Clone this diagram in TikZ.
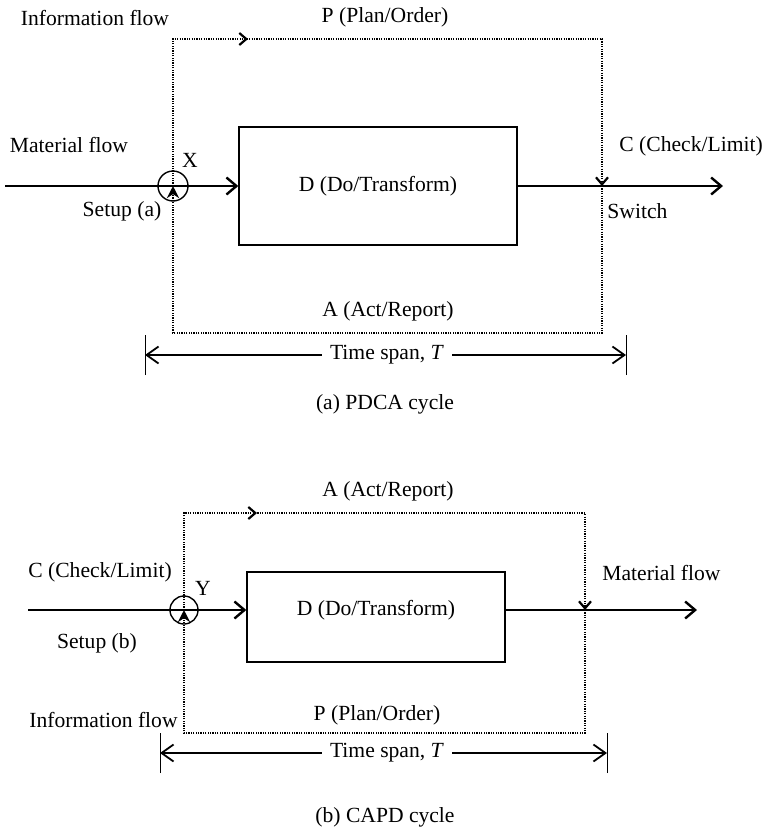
\documentclass[tikz,border=0pt]{standalone}
\usepackage{fontspec}
\setmainfont{Liberation Serif}
\usetikzlibrary{arrows.meta,decorations.markings}
\begin{document}
\begin{tikzpicture}[x=0.5pt,y=-0.5pt,
  txt/.style={font=\fontsize{10.8}{13}\selectfont, inner sep=0pt},
  boxnode/.style={draw, line width=0.7pt, font=\fontsize{10.8}{13}\selectfont, inner sep=0pt},
  junction/.style={circle, draw, line width=0.7pt, inner sep=0pt, minimum size=#1},
  matflow/.style={line width=1.2pt, -{Straight Barb[length=5pt,width=8.5pt]}},
  infoflow/.style={dash pattern=on 0.6pt off 0.6pt, line width=1pt},
  infoend/.style={-{Straight Barb[length=3.5pt,width=6pt,line width=1.1pt]}},
  setupend/.style={-{Stealth[length=6pt,width=6pt]}},
  midarrow/.style={postaction={decorate}, decoration={markings,
      mark=at position #1 with {\arrow{Straight Barb[length=3.5pt,width=6pt,line width=1.1pt]}}}},
  spanline/.style={line width=0.9pt},
  spanend/.style={-{Straight Barb[length=6pt,width=8.5pt]}},
  spanstart/.style={{Straight Barb[length=6pt,width=8.5pt]}-},
  tick/.style={line width=0.5pt},
]
\useasboundingbox (0,0) rectangle (763,827);

% ---------------- (a) PDCA cycle ----------------
\node[boxnode, minimum width=139pt, minimum height=59pt] (D1) at (378,186) {D (Do/Transform)};
\node[junction=15pt] (X) at (173,186) {};
\node[txt] (Xl) at (190,160) {X};

\coordinate (m1in) at (5,186);
\coordinate (m1out) at (723,186);
\coordinate (S1) at (602,186);
\coordinate (tl1) at (173,39);
\coordinate (tr1) at (602,39);
\coordinate (br1) at (602,333);
\coordinate (bl1) at (173,333);

% material flow
\draw[matflow] (m1in) -- (D1.west);
\draw[matflow] (D1.east) -- (m1out);

% information loop
\draw[infoflow, infoend, midarrow=111pt] (X.center) -- (tl1) -- (tr1) -- (S1);
\draw[infoflow, setupend] (S1) -- (br1) -- (bl1) -- (X.center);

\node[txt] (info1) at (95,18) {Information flow};
\node[txt] (P1) at (385,17) {P (Plan/Order)};
\node[txt] (mat1) at (69,145) {Material flow};
\node[txt] (setup1) at (122,211) {Setup (a)};
\node[txt, anchor=west] (C1) at (619,146) {C (Check/Limit)};
\node[txt, anchor=west] (sw1) at (607,211) {Switch};
\node[txt] (A1) at (388,311) {A (Act/Report)};

% time span
\node[txt, inner xsep=4pt] (T1) at (387,355) {Time span, \textit{T}};
\coordinate (t1a) at (145,355);
\coordinate (t1b) at (626,355);
\draw[tick] ([yshift=-10]t1a) -- ([yshift=10]t1a);
\draw[tick] ([yshift=-10]t1b) -- ([yshift=10]t1b);
\draw[spanline, spanstart] (t1a) -- (T1.west);
\draw[spanline, spanend] (T1.east) -- (t1b);

\node[txt] (cap1) at (385,404) {(a) PDCA cycle};

% ---------------- (b) CAPD cycle ----------------
\node[boxnode, minimum width=129pt, minimum height=45pt] (D2) at (376,617) {};
\node[txt] (D2t) at (376,610) {D (Do/Transform)};
\node[junction=14pt] (Y) at (184,610) {};
\node[txt] (Yl) at (203,588) {Y};

\coordinate (m2in) at (28,610);
\coordinate (m2out) at (697,610);
\coordinate (S2) at (585,610);
\coordinate (tl2) at (184,513);
\coordinate (tr2) at (585,513);
\coordinate (br2) at (585,733);
\coordinate (bl2) at (184,733);

% material flow
\draw[matflow] (m2in) -- (m2in -| D2.west);
\draw[matflow] (S2 -| D2.east) -- (m2out);

% information loop
\draw[infoflow, infoend, midarrow=85pt] (Y.center) -- (tl2) -- (tr2) -- (S2);
\draw[infoflow, setupend] (S2) -- (br2) -- (bl2) -- (Y.center);

\node[txt] (A2) at (388,491) {A (Act/Report)};
\node[txt] (C2) at (100,572) {C (Check/Limit)};
\node[txt] (setup2) at (97,643) {Setup (b)};
\node[txt, anchor=west] (mat2) at (602,573) {Material flow};
\node[txt, anchor=east] (info2) at (178,720) {Information flow};
\node[txt] (P2) at (377,715) {P (Plan/Order)};

% time span
\node[txt, inner xsep=4pt] (T2) at (387,753) {Time span, \textit{T}};
\coordinate (t2a) at (160,753);
\coordinate (t2b) at (607,753);
\draw[tick] ([yshift=-10]t2a) -- ([yshift=10]t2a);
\draw[tick] ([yshift=-10]t2b) -- ([yshift=10]t2b);
\draw[spanline, spanstart] (t2a) -- (T2.west);
\draw[spanline, spanend] (T2.east) -- (t2b);

\node[txt] (cap2) at (385,817) {(b) CAPD cycle};
\end{tikzpicture}
\end{document}
